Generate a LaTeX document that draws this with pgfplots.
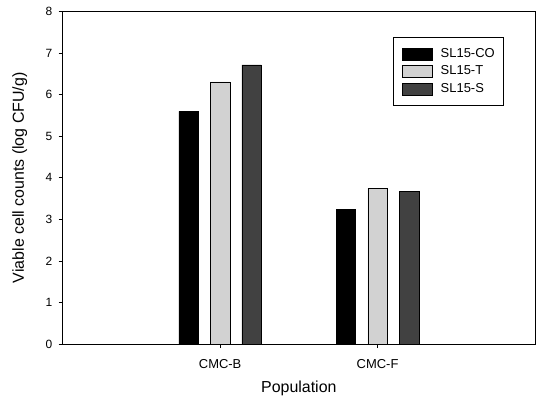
\documentclass[border=0pt]{standalone}
\usepackage{pgfplots}
\pgfplotsset{compat=1.18}
\usepackage{fontspec}
\setmainfont{Liberation Sans}
\definecolor{lightbar}{HTML}{D2D2D2}
\definecolor{darkbar}{HTML}{414141}
\begin{document}
\begin{tikzpicture}
\useasboundingbox (-62.7bp,-58bp) rectangle (473.3bp,344bp);
\begin{axis}[
  scale only axis,
  width=472.3bp, height=332.3bp,
  xmin=-1, xmax=2, ymin=0, ymax=8,
  xtick={0,1}, xticklabels={CMC-B,CMC-F},
  ytick={0,1,...,8},
  tick align=outside, tick pos=left,
  major tick length=4bp,
  axis line style={line width=0.8bp},
  every tick/.style={black, line width=0.8bp},
  /pgf/number format/assume math mode=true,
  yticklabel style={font=\fontsize{12}{14}\selectfont, anchor=east, xshift=-3bp},
  xticklabel style={font=\fontsize{13}{15}\selectfont, anchor=base, yshift=-20bp},
  xlabel={Population},
  ylabel={Viable cell counts (log CFU/g)},
  xlabel style={font=\fontsize{16}{18}\selectfont, at={([yshift=-48bp]axis description cs:0.5,0)}, anchor=base},
  ylabel style={font=\fontsize{16}{18}\selectfont, at={([xshift=-43bp]axis description cs:0,0.5)}, anchor=center},
  ybar, bar width=19.5bp,
  legend style={at={(0.699,0.923)}, anchor=north west, draw=black, line width=0.8bp,
    inner xsep=9bp, inner ysep=10bp, row sep=5bp,
    font=\fontsize{13}{15}\selectfont,
    nodes={inner sep=0pt, text height=9.5bp, text depth=2.5bp},
    /tikz/every odd column/.append style={column sep=8bp},
    cells={anchor=west}},
  legend image code/.code={\draw[#1, line width=0.5bp] (0bp,-6bp) rectangle (30bp,6bp);},
]
\addplot[fill=black, draw=black, line width=0.5bp, bar shift=-31.6bp] coordinates {(0,5.60) (1,3.25)};
\addplot[fill=lightbar, draw=black, line width=0.5bp, bar shift=0bp] coordinates {(0,6.31) (1,3.75)};
\addplot[fill=darkbar, draw=black, line width=0.5bp, bar shift=31.6bp] coordinates {(0,6.72) (1,3.68)};
\legend{SL15-CO,SL15-T,SL15-S}
\end{axis}
\end{tikzpicture}
\end{document}
